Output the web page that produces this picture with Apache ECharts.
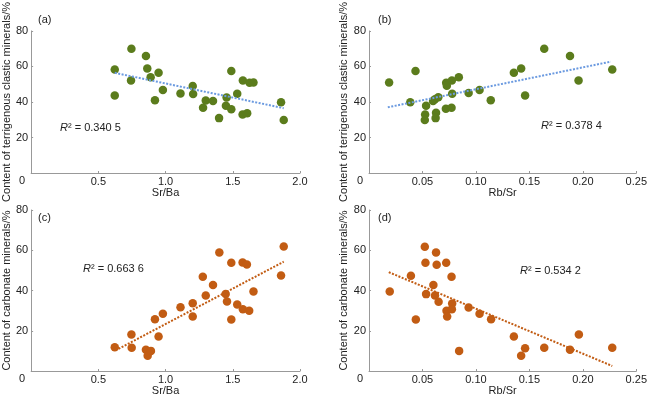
<!DOCTYPE html>
<html>
<head>
<meta charset="utf-8">
<script src="https://cdn.jsdelivr.net/npm/echarts@6/dist/echarts.min.js"></script>
<style>
	html, body { margin: 0; padding: 0; background: #fff; }
	#main { width: 650px; height: 398px; }
</style>
</head>
<body>
<div id="main"></div>
<script>
// Sr/Ba vs terrigenous clastic content (a)
var srBaA = [0.622, 0.622, 0.746, 0.743, 0.854, 0.864, 0.889, 0.948, 0.921, 0.980, 1.111, 1.202, 1.205, 1.299, 1.279,
	1.353, 1.398, 1.454, 1.449, 1.489, 1.489, 1.533, 1.575, 1.573, 1.607, 1.625, 1.654, 1.859, 1.879];
var clasticA = [58.3, 43.7, 69.9, 52.1, 65.9, 58.8, 53.9, 56.4, 41.0, 46.8, 44.8, 49.0, 44.5, 40.8, 36.8,
	40.5, 30.9, 42.5, 37.8, 57.4, 35.9, 44.6, 52.1, 32.9, 33.7, 50.8, 51.0, 39.8, 29.9];

// Rb/Sr vs terrigenous clastic content (b)
var rbSrB = [0.0188, 0.0386, 0.0435, 0.0534, 0.0525, 0.0522, 0.0627, 0.0623, 0.0599, 0.0617, 0.0648, 0.0722, 0.0728, 0.0719,
	0.0772, 0.0775, 0.0778, 0.0840, 0.0932, 0.1034, 0.1139, 0.1355, 0.1423, 0.1460, 0.1639, 0.1880, 0.1960, 0.2275];
var clasticB = [51.0, 39.8, 57.4, 37.8, 32.9, 29.9, 33.9, 30.9, 40.5, 41.5, 42.7, 50.8, 49.1, 36.2,
	36.7, 52.1, 44.6, 53.9, 45.0, 46.8, 41.0, 56.4, 58.8, 43.7, 69.9, 65.9, 52.1, 58.3];

// Sr/Ba vs carbonate content (c)
var srBaC = [0.622, 0.746, 0.748, 0.854, 0.867, 0.891, 0.921, 0.948, 0.980, 1.111, 1.202, 1.202, 1.277, 1.299,
	1.353, 1.400, 1.447, 1.457, 1.489, 1.489, 1.533, 1.573, 1.575, 1.605, 1.622, 1.654, 1.859, 1.879];
var carbonateC = [11.8, 18.1, 11.6, 10.5, 7.6, 10.0, 25.7, 17.1, 28.5, 31.7, 33.7, 27.1, 46.8, 37.5,
	42.7, 58.9, 38.3, 34.5, 53.8, 25.6, 33.0, 53.9, 30.7, 52.9, 29.9, 39.5, 47.5, 61.9];

// Rb/Sr vs carbonate content (d)
var rbSrD = [0.0194, 0.0392, 0.0438, 0.0522, 0.0528, 0.0534, 0.0627, 0.0633, 0.0602, 0.0617, 0.0651, 0.0722, 0.0725, 0.0731,
	0.0772, 0.0778, 0.0775, 0.0843, 0.0932, 0.1034, 0.1142, 0.1355, 0.1423, 0.1460, 0.1639, 0.1880, 0.1963, 0.2275];
var carbonateD = [39.5, 47.3, 25.6, 61.7, 53.8, 38.2, 58.9, 52.8, 42.7, 37.5, 34.4, 53.8, 29.9, 27.1,
	46.8, 33.5, 30.7, 10.0, 31.5, 28.5, 25.7, 17.1, 7.6, 11.3, 11.6, 10.5, 18.1, 11.6];

// trend line end points
var trendA = [[0.622, 56.4], [1.879, 36.5]];
var trendB = [[0.0176, 37.0], [0.2262, 62.7]];
var trendC = [[0.650, 11.0], [1.879, 54.3]];
var trendD = [[0.0185, 49.1], [0.2275, 2.5]];

var panelNames = ['(a)', '(b)', '(c)', '(d)'];
var r2Texts = ['0.340 5', '0.378 4', '0.663 6', '0.534 2'];

var green = '#5b7c1c';
var orange = '#c25c13';
var font = 'Liberation Sans, Arial, sans-serif';

function pairs(xs, ys) {
	var out = [];
	for (var i = 0; i < xs.length; i++) {
		out.push([xs[i], ys[i]]);
	}
	return out;
}

function xAxisOf(idx, max, interval, digits, name) {
	return {
		gridIndex : idx,
		type : 'value',
		min : 0,
		max : max,
		interval : interval,
		name : name,
		nameLocation : 'middle',
		nameGap : 14,
		nameTextStyle : { color : '#222', fontSize : 11, fontFamily : font },
		splitLine : { show : false },
		axisLine : { lineStyle : { color : '#999' } },
		axisTick : { inside : true, length : 2, lineStyle : { color : '#999' } },
		axisLabel : {
			margin : 3,
			color : '#222',
			fontSize : 11,
			fontFamily : font,
			formatter : function(v) {
				return v === 0 ? '' : v.toFixed(digits);
			}
		}
	};
}

function yAxisOf(idx, name) {
	return {
		gridIndex : idx,
		type : 'value',
		min : 0,
		max : 80,
		interval : 20,
		name : name,
		nameLocation : 'middle',
		nameGap : 19,
		nameTextStyle : { color : '#222', fontSize : 11, fontFamily : font },
		splitLine : { show : false },
		axisLine : { show : true, lineStyle : { color : '#999' } },
		axisTick : { show : true, inside : true, length : 2, lineStyle : { color : '#999' } },
		axisLabel : {
			margin : 3,
			color : '#222',
			fontSize : 11,
			fontFamily : font,
			formatter : function(v) {
				return v === 0 ? '{z|0}' : String(v);
			},
			rich : {
				z : { padding : [16, 3, 0, 0], fontSize : 11, fontFamily : font, color : '#222' }
			}
		}
	};
}

function scatterOf(idx, data, color) {
	return {
		type : 'scatter',
		xAxisIndex : idx,
		yAxisIndex : idx,
		data : data,
		symbolSize : 8.5,
		itemStyle : { color : color, opacity : 1 },
		z : 3
	};
}

function trendOf(idx, data, color) {
	return {
		type : 'line',
		xAxisIndex : idx,
		yAxisIndex : idx,
		data : data,
		symbol : 'none',
		silent : true,
		lineStyle : { color : color, width : 2, type : [2, 1.5] },
		z : 4
	};
}

var grids = [
	{ left : 30, top : 12, width : 270, height : 161 },
	{ left : 369, top : 12, width : 270, height : 161 },
	{ left : 30, top : 210, width : 270, height : 161 },
	{ left : 369, top : 210, width : 270, height : 161 }
];

var labelPos = [[38, 14], [378, 14], [38, 212], [378, 212]];
var r2Pos = [[60, 122], [541, 120], [83, 263], [520, 265]];

var graphics = [];
for (var k = 0; k < 4; k++) {
	graphics.push({
		type : 'text',
		left : labelPos[k][0],
		top : labelPos[k][1],
		style : { text : panelNames[k], fill : '#222', font : '11px ' + font }
	});
	graphics.push({
		type : 'text',
		left : r2Pos[k][0],
		top : r2Pos[k][1],
		style : {
			text : '{i|R}{n|\u00b2 = ' + r2Texts[k] + '}',
			rich : {
				i : { fontStyle : 'italic', fontSize : 11, fontFamily : font, fill : '#222' },
				n : { fontSize : 11, fontFamily : font, fill : '#222' }
			}
		}
	});
}

var myChart = echarts.init(document.getElementById('main'));
myChart.setOption({
	backgroundColor : '#fff',
	animation : false,
	grid : grids,
	xAxis : [
		xAxisOf(0, 2, 0.5, 1, 'Sr/Ba'),
		xAxisOf(1, 0.25, 0.05, 2, 'Rb/Sr'),
		xAxisOf(2, 2, 0.5, 1, 'Sr/Ba'),
		xAxisOf(3, 0.25, 0.05, 2, 'Rb/Sr')
	],
	yAxis : [
		yAxisOf(0, 'Content of terrigenous clastic minerals/%'),
		yAxisOf(1, 'Content of terrigenous clastic minerals/%'),
		yAxisOf(2, 'Content of carbonate minerals/%'),
		yAxisOf(3, 'Content of carbonate minerals/%')
	],
	series : [
		scatterOf(0, pairs(srBaA, clasticA), green),
		trendOf(0, trendA, '#6b9ae0'),
		scatterOf(1, pairs(rbSrB, clasticB), green),
		trendOf(1, trendB, '#6b9ae0'),
		scatterOf(2, pairs(srBaC, carbonateC), orange),
		trendOf(2, trendC, orange),
		scatterOf(3, pairs(rbSrD, carbonateD), orange),
		trendOf(3, trendD, orange)
	],
	graphic : graphics
});
</script>
</body>
</html>
